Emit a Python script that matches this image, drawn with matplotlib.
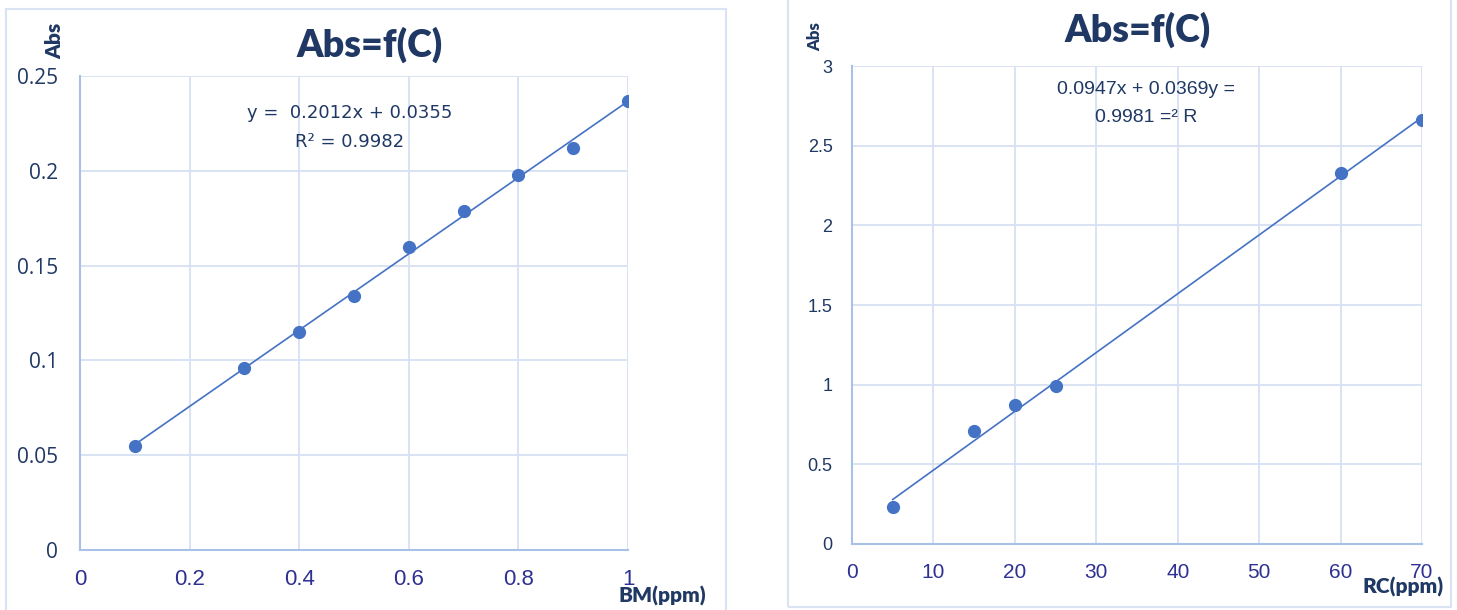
import numpy as np
import matplotlib
matplotlib.use("Agg")
import matplotlib.pyplot as plt
from matplotlib.patches import Rectangle

# Calibration data, BM series
bm_conc = [0.1, 0.3, 0.4, 0.5, 0.6, 0.7, 0.8, 0.9, 1.0]
bm_abs = [0.055, 0.096, 0.115, 0.134, 0.160, 0.179, 0.198, 0.212, 0.237]
bm_slope, bm_icpt = 0.2012, 0.0355
bm_xticks = [0, 0.2, 0.4, 0.6, 0.8, 1]
bm_yticks = [0, 0.05, 0.1, 0.15, 0.2, 0.25]

# Calibration data, RC series
rc_conc = [5, 15, 20, 25, 60, 70]
rc_abs = [0.23, 0.71, 0.87, 0.99, 2.33, 2.66]
rc_slope, rc_icpt = 0.0369, 0.0947
rc_xticks = [0, 10, 20, 30, 40, 50, 60, 70]
rc_yticks = [0, 0.5, 1, 1.5, 2, 2.5, 3]

W, H = 1457, 610
navy = "#1F3864"
indigo = "#2E3192"
dot = "#4472C4"
grid_c = "#D6E1F2"
spine_c = "#A9C1E6"
narrow = ["Liberation Sans", "DejaVu Sans"]
title_font = ["Lato", "DejaVu Sans"]

fig = plt.figure(figsize=(W / 100, H / 100), dpi=100)


def px_axes(x0, x1, y0, y1):
    return fig.add_axes([x0 / W, 1 - y1 / H, (x1 - x0) / W, (y1 - y0) / H])


def frame(x0, y0, x1, y1):
    fig.patches.append(Rectangle((x0 / W, 1 - y1 / H), (x1 - x0) / W, (y1 - y0) / H,
                                 transform=fig.transFigure, fill=False,
                                 edgecolor="#D9E3F3", linewidth=1.5))


def style(ax, xticks, yticks, yfont, ysize, xsize, ypad):
    ax.set_xlim(xticks[0], xticks[-1])
    ax.set_ylim(yticks[0], yticks[-1])
    ax.set_xticks(xticks)
    ax.set_yticks(yticks)
    ax.set_xticklabels([f"{t:g}" for t in xticks], family=narrow, fontsize=xsize, color=indigo)
    ax.set_yticklabels([f"{t:g}" for t in yticks], family=yfont, fontsize=ysize, color=navy)
    ax.tick_params(axis="y", length=0, pad=ypad)
    ax.tick_params(axis="x", length=0, pad=14)
    ax.grid(True, color=grid_c, linewidth=1.3)
    ax.set_axisbelow(True)
    for s in ("top", "right"):
        ax.spines[s].set_visible(False)
    for s in ("left", "bottom"):
        ax.spines[s].set_color(spine_c)
        ax.spines[s].set_linewidth(1.5)


frame(6, 9, 726, 640)
frame(788, -20, 1451, 607)

# left panel
ax1 = px_axes(80, 628, 76, 550)
style(ax1, bm_xticks, bm_yticks, ["Open Sans", "DejaVu Sans"], 15, 16, 16)
xl = np.array([bm_conc[0], bm_conc[-1]])
ax1.plot(xl, bm_slope * xl + bm_icpt, color=dot, linewidth=1.2, zorder=2)
ax1.plot(bm_conc, bm_abs, "o", color=dot, markersize=8.5, zorder=3)
fig.text(370 / W, 1 - 45 / H, "Abs=f(C)", family=title_font, fontsize=27,
         fontweight="heavy", color=navy, ha="center", va="center")
fig.text(55 / W, 1 - 41 / H, "Abs", family=title_font, fontsize=15, fontweight="heavy",
         color=navy, rotation=90, ha="center", va="center")
fig.text(662 / W, 1 - 596 / H, "BM(ppm)", family=title_font, fontsize=15, fontweight="heavy",
         color=navy, ha="center", va="center")
fig.text(350 / W, 1 - 113 / H, f"y =  {bm_slope:.4f}x + {bm_icpt:.4f}", family=["DejaVu Sans"],
         fontsize=13, color=navy, ha="center", va="center")
fig.text(350 / W, 1 - 142 / H, "R² = 0.9982", family=["DejaVu Sans"],
         fontsize=13, color=navy, ha="center", va="center")

# right panel
ax2 = px_axes(852, 1422, 66, 544)
style(ax2, rc_xticks, rc_yticks, narrow, 13, 15, 14)
xr = np.array([rc_conc[0], rc_conc[-1]])
ax2.plot(xr, rc_slope * xr + rc_icpt, color=dot, linewidth=1.2, zorder=2)
ax2.plot(rc_conc, rc_abs, "o", color=dot, markersize=8.5, zorder=3)
fig.text(1138 / W, 1 - 30 / H, "Abs=f(C)", family=title_font, fontsize=27,
         fontweight="heavy", color=navy, ha="center", va="center")
fig.text(815 / W, 1 - 37 / H, "Abs", family=title_font, fontsize=12, fontweight="heavy",
         color=navy, rotation=90, ha="center", va="center")
fig.text(1403 / W, 1 - 587 / H, "RC(ppm)", family=title_font, fontsize=15, fontweight="heavy",
         color=navy, ha="center", va="center")
fig.text(1146 / W, 1 - 89 / H, f"{rc_icpt:.4f}x + {rc_slope:.4f}y =", family=narrow,
         fontsize=14, color=navy, ha="center", va="center")
fig.text(1146 / W, 1 - 117 / H, "0.9981 =² R", family=narrow,
         fontsize=14, color=navy, ha="center", va="center")

fig.savefig("out.png", dpi=100)
